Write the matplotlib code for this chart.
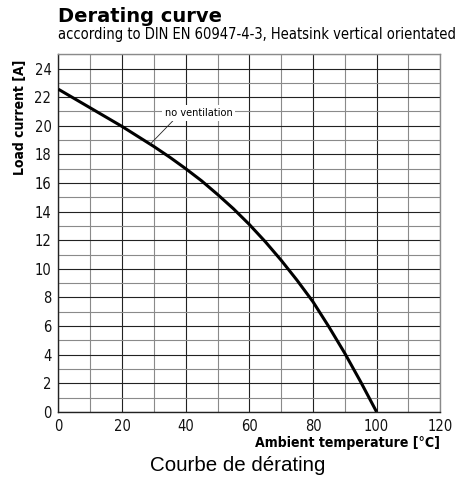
import matplotlib
matplotlib.use("Agg")
import matplotlib.pyplot as plt
from matplotlib import font_manager

# derating curve, no ventilation (every 5 degC)
temps = [0, 5, 10, 15, 20, 25, 30, 35, 40, 45, 50,
         55, 60, 65, 70, 75, 80, 85, 90, 95, 100]
current = [22.55, 21.9, 21.25, 20.6, 19.95, 19.25, 18.55, 17.8, 17.0, 16.15, 15.2,
           14.2, 13.1, 11.9, 10.6, 9.2, 7.7, 5.95, 4.1, 2.1, 0.0]

x_ticks = [0, 20, 40, 60, 80, 100, 120]
y_ticks = [0, 2, 4, 6, 8, 10, 12, 14, 16, 18, 20, 22, 24]

# pick a narrow font if one exists
cond = "DejaVu Sans"
cond_stretch = "normal"
for fam, st in [("Liberation Sans Narrow", "condensed"), ("DejaVu Sans", "condensed")]:
    try:
        fp = font_manager.FontProperties(family=fam, stretch=st)
        path = font_manager.findfont(fp, fallback_to_default=False)
        if "ondensed" in path or "Narrow" in path:
            cond, cond_stretch = fam, st
            break
    except Exception:
        pass

fig = plt.figure(figsize=(4.6, 4.84), dpi=100)
ax = fig.add_axes([0.127, 0.149, 0.83, 0.739])

ax.plot(temps, current, color="black", lw=2.2, solid_capstyle="butt",
        solid_joinstyle="round", zorder=3)

ax.set_xlim(0, 120)
ax.set_ylim(0, 25)
ax.set_xticks(x_ticks)
ax.set_yticks(y_ticks)
ax.set_xticks(range(0, 121, 10), minor=True)
ax.set_yticks(range(0, 26), minor=True)
ax.grid(which="major", color="#222222", lw=0.8)
ax.grid(which="minor", color="#8a8a8a", lw=0.8)
ax.tick_params(which="both", length=0, pad=5, labelsize=10.5)
for lab in ax.get_xticklabels() + ax.get_yticklabels():
    lab.set_family(cond)
    lab.set_stretch(cond_stretch)
    lab.set_color("#111111")

for s in ["left", "bottom"]:
    ax.spines[s].set_color("#222222")
    ax.spines[s].set_linewidth(1.0)
for s in ["top", "right"]:
    ax.spines[s].set_color("#8a8a8a")
    ax.spines[s].set_linewidth(1.0)

ax.annotate("no ventilation", xy=(28.8, 18.7), xytext=(44.0, 20.9),
            ha="center", va="center", fontsize=7.8, family=cond, stretch=cond_stretch,
            bbox=dict(boxstyle="square,pad=0.25", fc="white", ec="none"),
            arrowprops=dict(arrowstyle="-", lw=0.6, color="#222222",
                            shrinkA=0, shrinkB=0, relpos=(0.18, 0.1)),
            zorder=4)

fig.text(0.126, 0.966, "Derating curve", fontsize=14, fontweight="bold",
         ha="left", va="center")
fig.text(0.126, 0.928, "according to DIN EN 60947-4-3, Heatsink vertical orientated",
         fontsize=10.5, family=cond, stretch=cond_stretch, ha="left", va="center")

fig.text(0.043, 0.758, "Load current [A]", rotation=90, fontsize=10,
         fontweight="bold", family=cond, stretch=cond_stretch, ha="center", va="center")
fig.text(0.957, 0.085, "Ambient temperature [°C]", fontsize=10.1,
         fontweight="bold", family=cond, stretch=cond_stretch, ha="right", va="center")

fig.text(0.517, 0.039, "Courbe de dérating", fontsize=14.8, family="Liberation Sans",
         ha="center", va="center")

fig.savefig("out.png", dpi=100)
